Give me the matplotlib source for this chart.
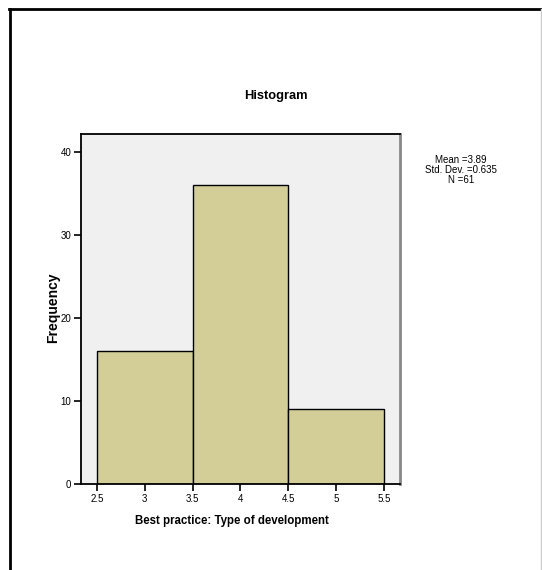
import matplotlib.pyplot as plt
from matplotlib.lines import Line2D
import numpy as np

bin_edges = np.array([2.5, 3.5, 4.5, 5.5])
counts = np.array([16, 36, 9])
xticks = [2.5, 3, 3.5, 4, 4.5, 5, 5.5]
xtick_labels = ['2.5', '3', '3.5', '4', '4.5', '5', '5.5']
yticks = [0, 10, 20, 30, 40]
stats_text = 'Mean =3.89\nStd. Dev. =0.635\nN =61'

plt.rcParams['font.family'] = ['Liberation Sans', 'DejaVu Sans']

fig = plt.figure(figsize=(5.42, 5.70), dpi=100)
ax = fig.add_axes([81/542, 1 - 484/570, (400 - 81)/542, (484 - 134)/570])
ax.set_facecolor('#f0f0f0')

ax.bar(bin_edges[:-1], counts, width=np.diff(bin_edges), align='edge',
       color='#d3ce98', edgecolor='black', linewidth=1)

ax.set_xlim(2.333, 5.67)
ax.set_ylim(0, 42.2)
ax.set_xticks(xticks)
ax.set_xticklabels(xtick_labels)
ax.set_yticks(yticks)
ax.tick_params(axis='both', direction='out', length=5, width=1.2, labelsize=7, pad=2)

for s in ['left', 'bottom', 'top']:
    ax.spines[s].set_color('black')
    ax.spines[s].set_linewidth(1.3)
ax.spines['right'].set_color('#888888')
ax.spines['right'].set_linewidth(2)

fig.text(276/542, 1 - 96/570, 'Histogram', ha='center', va='center',
         fontsize=9.3, fontweight='bold')
fig.text(232/542, 1 - 521/570, 'Best practice: Type of development', ha='center', va='center',
         fontsize=8.3, fontweight='bold')
fig.text(53/542, 1 - 308/570, 'Frequency', ha='center', va='center', rotation=90,
         fontsize=10, fontweight='bold')

fig.text(461/542, 1 - 170/570, stats_text, ha='center', va='center',
         fontsize=7, linespacing=1.0)

# outer frame
fig.add_artist(Line2D([10/542, 10/542], [0, 1 - 9/570], transform=fig.transFigure,
                      color='black', linewidth=2))
fig.add_artist(Line2D([9/542, 1], [1 - 9/570, 1 - 9/570], transform=fig.transFigure,
                      color='black', linewidth=2))
fig.add_artist(Line2D([541/542, 541/542], [0, 1 - 9/570], transform=fig.transFigure,
                      color='#cccccc', linewidth=1))

fig.savefig('out.png', dpi=100)
